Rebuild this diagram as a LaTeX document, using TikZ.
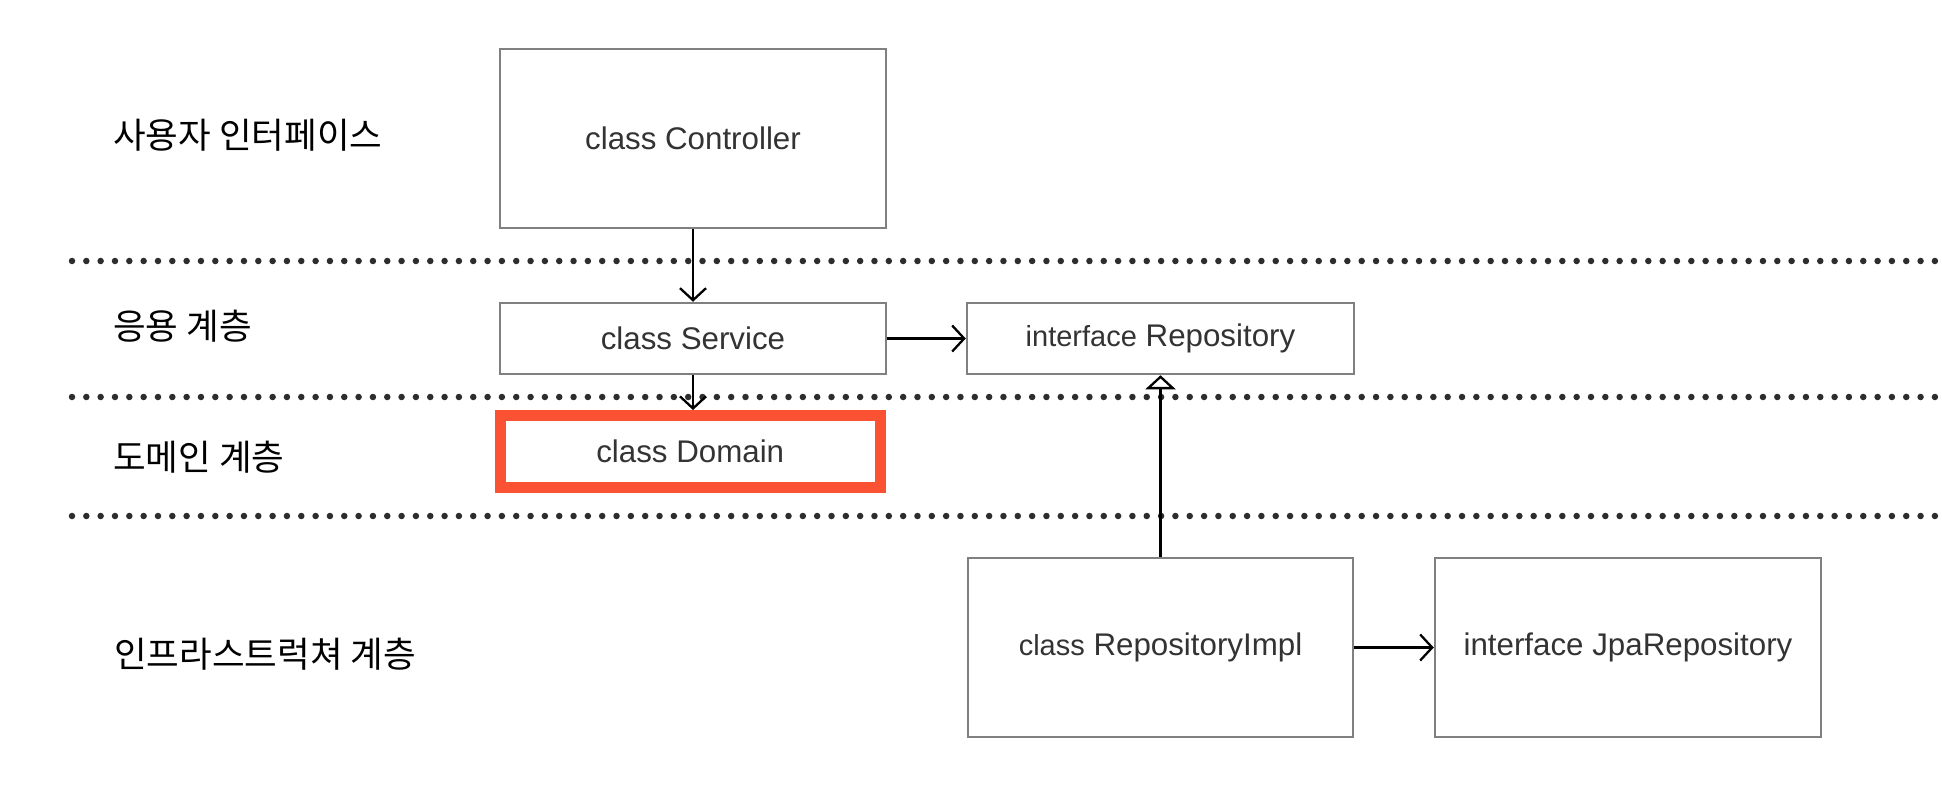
\documentclass[tikz,border=0pt]{standalone}
\usepackage{fontspec}
\setmainfont{Liberation Sans}
\newfontfamily\kofont{Noto Sans CJK KR}
\usetikzlibrary{arrows.meta}
\definecolor{boxgray}{RGB}{128,128,128}
\definecolor{txtgray}{RGB}{51,51,51}
\definecolor{dotgray}{RGB}{45,45,45}
\definecolor{hired}{RGB}{250,82,50}
\tikzset{
  umlbox/.style={draw=boxgray, line width=2.5pt, fill=white, inner sep=0pt, text=txtgray,
    font=\fontsize{31.3}{37}\selectfont},
  hibox/.style={draw=hired, line width=11pt, fill=white, inner sep=0pt, text=txtgray,
    font=\fontsize{31.3}{37}\selectfont},
  layerlabel/.style={anchor=west, inner sep=0pt, font=\kofont\fontsize{35.5}{42}\selectfont},
  sepline/.style={draw=dotgray, line width=6.5pt, line cap=round, dash pattern=on 0pt off 14.33pt},
  dep/.style={draw=black, line width=2.3pt, -{Straight Barb[length=12pt,width=26pt,line width=2.3pt]}},
  gen/.style={draw=black, line width=2.3pt, -{Triangle[open,length=14pt,width=30pt,line width=2.3pt,fill=white]}}
}
\newcommand{\kwsmall}[1]{{\fontsize{29}{34}\selectfont #1}}
\begin{document}
\begin{tikzpicture}[x=1pt,y=-1pt]
\useasboundingbox[fill=white] (0,0) rectangle (1942,802);

% separator lines
\coordinate (s1a) at (72,261); \coordinate (s1b) at (1940,261);
\coordinate (s2a) at (72,397); \coordinate (s2b) at (1940,397);
\coordinate (s3a) at (72,516); \coordinate (s3b) at (1940,516);
\draw[sepline] (s1a) -- (s1b);
\draw[sepline] (s2a) -- (s2b);
\draw[sepline] (s3a) -- (s3b);

% layer labels
\node[layerlabel] (l1) at (113,135) {사용자 인터페이스};
\node[layerlabel] (l2) at (113,326) {응용 계층};
\node[layerlabel] (l3) at (113,457) {도메인 계층};
\node[layerlabel] (l4) at (114,654) {인프라스트럭쳐 계층};

% boxes
\node[umlbox, minimum width=386pt, minimum height=179pt] (ctrl) at (693,138.5) {class Controller};
\node[umlbox, minimum width=386pt, minimum height=71pt] (svc) at (693,338.5) {class Service};
\node[umlbox, minimum width=387pt, minimum height=71pt] (repo) at (1160.5,338.5) {\kwsmall{interface} Repository};
\node[hibox, minimum width=379.5pt, minimum height=71.5pt] (dom) at (690.25,451.25) {class Domain};
\node[umlbox, minimum width=385pt, minimum height=179pt] (impl) at (1160.5,647.5) {\kwsmall{class} RepositoryImpl};
\node[umlbox, minimum width=386pt, minimum height=179pt] (jpa) at (1628,647.5) {interface JpaRepository};

% connectors
\draw[dep] (ctrl.south) -- (svc.north);
\draw[dep] (svc.south) -- (svc.south |- dom.north);
\draw[dep] (svc.east) -- (repo.west);
\draw[gen] (impl.north) -- (repo.south);
\draw[dep] (impl.east) -- (jpa.west);
\end{tikzpicture}
\end{document}
